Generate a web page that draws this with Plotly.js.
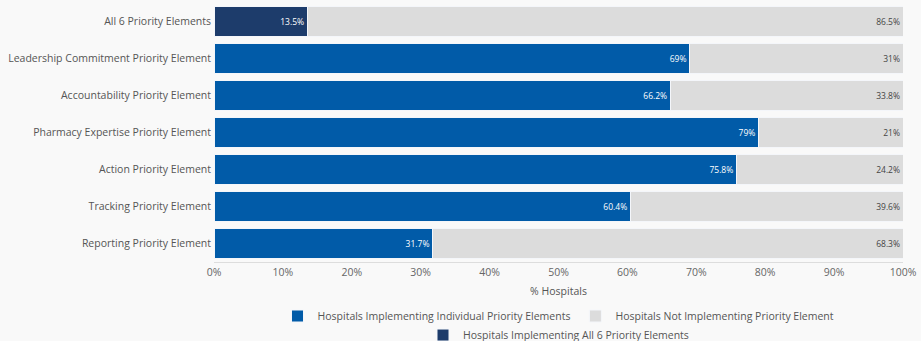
<!DOCTYPE html>
<html>
<head>
<meta charset="utf-8">
<script src="https://cdn.plot.ly/plotly-3.0.1.min.js"></script>
<style>html,body{margin:0;padding:0;background:#f9f9f9;}#chart{width:921px;height:341px;}</style>
</head>
<body>
<div id="chart"></div>
<script>
const categories = [
  "All 6 Priority Elements",
  "Leadership Commitment Priority Element",
  "Accountability Priority Element",
  "Pharmacy Expertise Priority Element",
  "Action Priority Element",
  "Tracking Priority Element",
  "Reporting Priority Element"
];
const allSix = [13.5, null, null, null, null, null, null];
const individual = [null, 69, 66.2, 79, 75.8, 60.4, 31.7];
const notImplementing = [86.5, 31, 33.8, 21, 24.2, 39.6, 68.3];
const xTickVals = [0, 10, 20, 30, 40, 50, 60, 70, 80, 90, 100];
const xTickText = ["0%", "10%", "20%", "30%", "40%", "50%", "60%", "70%", "80%", "90%", "100%"];

const font = "Open Sans, sans-serif";
const pct = arr => arr.map(v => (v == null ? '' : v + '%'));
const common = {
  type: 'bar', orientation: 'h', y: categories,
  textposition: 'inside', insidetextanchor: 'end',
  textangle: 0, constraintext: 'none', cliponaxis: false,
  hoverinfo: 'skip'
};

const traces = [
  Object.assign({}, common, {
    name: 'Hospitals Implementing Individual Priority Elements',
    x: individual, text: pct(individual),
    marker: {color: '#015ba8', line: {color: '#f4f6fa', width: 1}},
    textfont: {family: font, size: 8.5, color: '#ffffff'}, legend: 'legend', legendrank: 1
  }),
  Object.assign({}, common, {
    name: 'Hospitals Implementing All 6 Priority Elements',
    x: allSix, text: pct(allSix),
    marker: {color: '#1d3c6b', line: {color: '#f4f6fa', width: 1}},
    textfont: {family: font, size: 8.5, color: '#ffffff'}, legend: 'legend2'
  }),
  Object.assign({}, common, {
    name: 'Hospitals Not Implementing Priority Element',
    x: notImplementing, text: pct(notImplementing),
    marker: {color: '#dcdcdc', line: {color: '#f4f6fa', width: 1}},
    textfont: {family: font, size: 8.5, color: '#444444'}, legend: 'legend', legendrank: 2
  })
];

const layout = {
  width: 921, height: 341,
  paper_bgcolor: '#f9f9f9', plot_bgcolor: '#f9f9f9',
  margin: {l: 214, r: 18, t: 3, b: 79, autoexpand: false},
  barmode: 'stack', bargap: 0.19,
  font: {family: font, size: 10.5, color: '#555555'},
  xaxis: {
    range: [0, 100], tickvals: xTickVals, ticktext: xTickText, automargin: false,
    showgrid: false, zeroline: false, showline: true, linecolor: '#dddddd', linewidth: 1,
    ticks: '', tickfont: {family: font, size: 10.5, color: '#666666'},
    title: {text: '% Hospitals', font: {family: font, size: 10.5, color: '#555555'}, standoff: 10},
    fixedrange: true
  },
  yaxis: {
    type: 'category', autorange: 'reversed', showgrid: false, zeroline: false, automargin: false,
    ticks: '', ticklabelstandoff: 2, tickfont: {family: font, size: 10.5, color: '#555555'}, fixedrange: true
  },
  showlegend: true,
  legend: {
    orientation: 'h', x: 0.5, xanchor: 'center', y: -0.2085, yanchor: 'middle',
    font: {family: font, size: 10.5, color: '#555555'}, bgcolor: 'rgba(0,0,0,0)',
    traceorder: 'normal', itemclick: false, itemdoubleclick: false
  },
  legend2: {
    orientation: 'h', x: 0.5, xanchor: 'center', y: -0.282, yanchor: 'middle',
    font: {family: font, size: 10.5, color: '#555555'}, bgcolor: 'rgba(0,0,0,0)',
    itemclick: false, itemdoubleclick: false
  }
};

Plotly.newPlot('chart', traces, layout, {displayModeBar: false, staticPlot: true});
</script>
</body>
</html>
